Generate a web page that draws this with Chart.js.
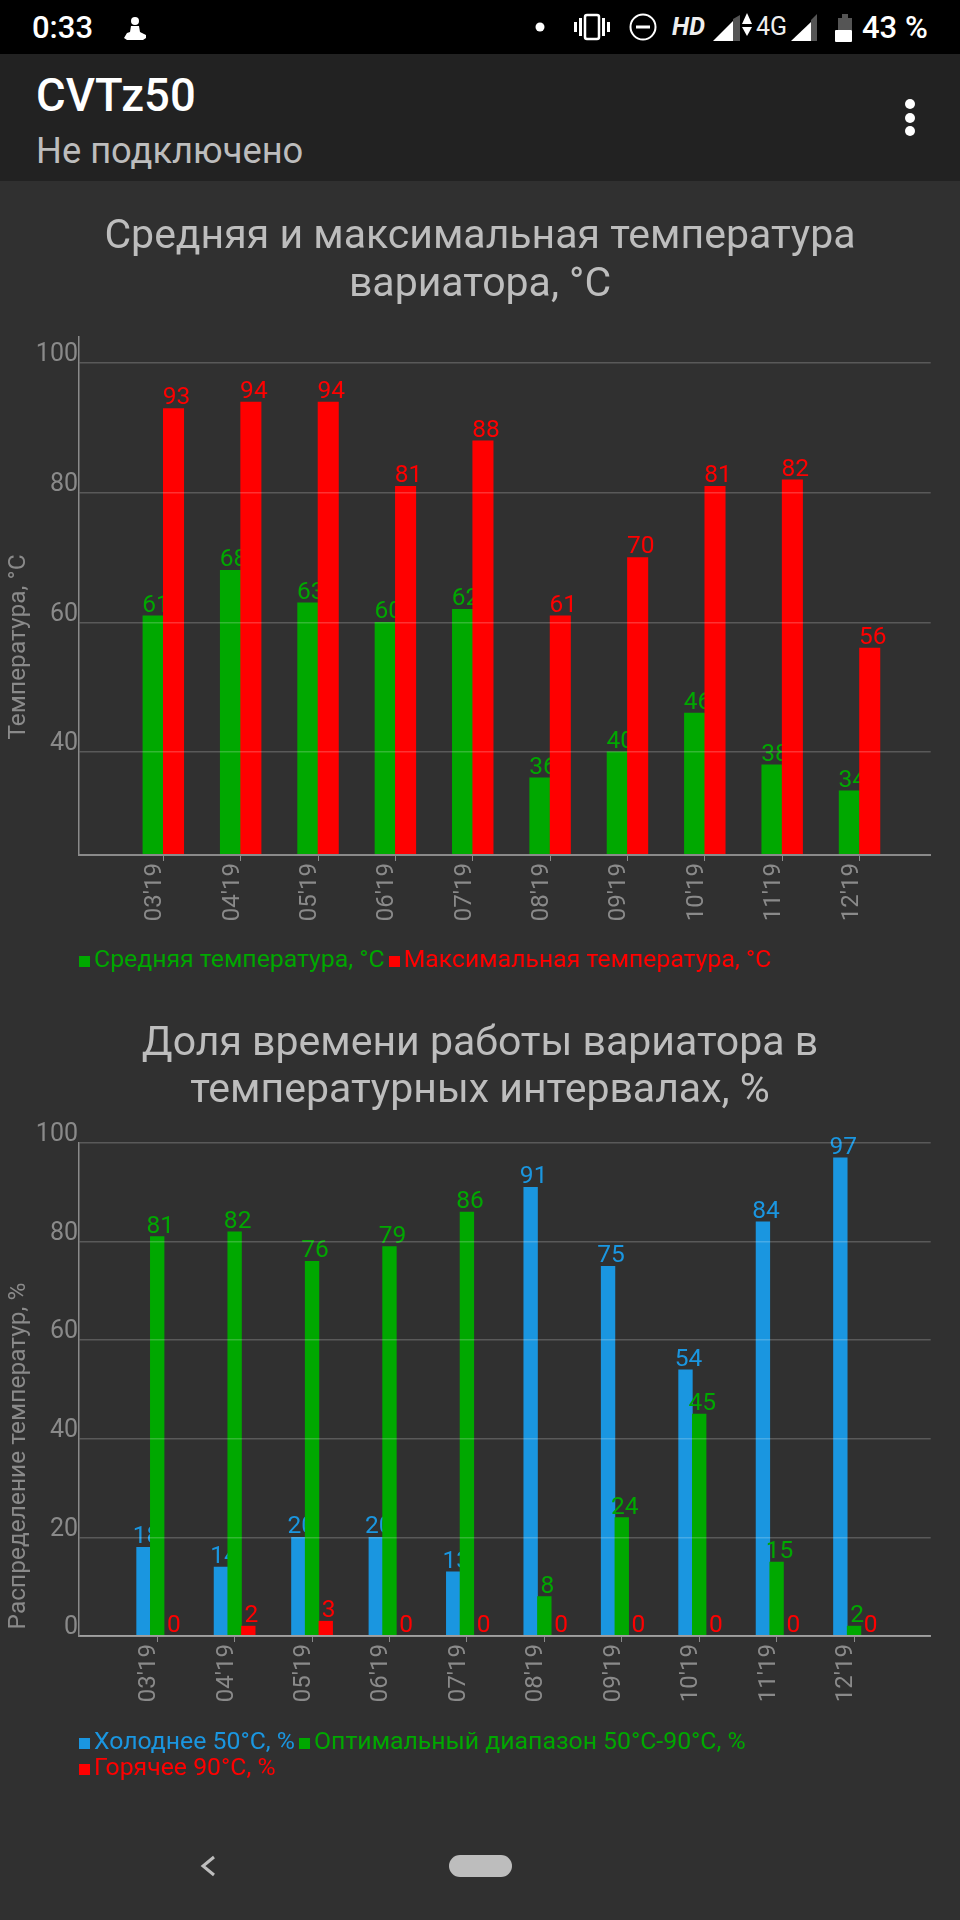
<!DOCTYPE html>
<html lang="ru">
<head>
<meta charset="utf-8">
<title>CVTz50</title>
<script src="https://cdn.jsdelivr.net/npm/chart.js@4/dist/chart.umd.min.js"></script>
<style>
  html, body { margin: 0; padding: 0; background: #303030; }
  body { position: relative; width: 960px; height: 1920px; overflow: hidden; font-family: Roboto, sans-serif; }
  .abs { position: absolute; white-space: nowrap; line-height: 1; }
  #statusBar { position: absolute; left: 0; top: 0; width: 960px; height: 54px; background: #000; }
  #appBar { position: absolute; left: 0; top: 54px; width: 960px; height: 127px; background: #222; }
  canvas { position: absolute; left: 0; }
  .legend { position: absolute; left: 79px; width: 800px; font-size: 24.8px; line-height: 25.5px; white-space: nowrap; }
  .legend span.mark { display: inline-block; width: 11px; height: 11px; margin-right: 4px; }
  .legend span.item { margin-right: 4px; }
</style>
</head>
<body>
<div id="statusBar"></div>
<div id="appBar"></div>
<div class="abs" style="left:32px;top:12px;font-size:31px;font-weight:500;color:#fff">0:33</div>
<svg class="abs" style="left:0;top:0" width="960" height="54" fill="#fff">
  <circle cx="135" cy="21" r="4"/>
  <path d="M131 26h8l1 6 6 3v3l-3 2h-16l-3-2 3-5 3-1z"/>
  <circle cx="540" cy="27" r="4.5"/>
  <rect x="585" y="15" width="14" height="24" rx="2" fill="none" stroke="#fff" stroke-width="2.5"/>
  <rect x="574" y="22" width="3" height="10"/><rect x="579" y="18" width="3" height="18"/>
  <rect x="602" y="18" width="3" height="18"/><rect x="607" y="22" width="3" height="10"/>
  <circle cx="643" cy="27" r="12.5" fill="none" stroke="#fff" stroke-width="2"/>
  <rect x="636" y="25.5" width="14" height="3"/>
  <path d="M713 41l20-20v20z"/><path d="M733 19l7-4v26h-7z" fill="#555"/>
  <path d="M742 24l5-11 5 11z"/><path d="M742 27l5 9 5-9z"/>
  <path d="M791 41l20-19v19z"/><path d="M811 20l6-6v27h-6z" fill="#555"/>
  <path d="M838 18h4v-4h6v4h4v12h-14z" fill="#555"/><rect x="835" y="30" width="17" height="12" rx="1"/>
</svg>
<div class="abs" style="left:672px;top:14px;font-size:25px;font-weight:700;font-style:italic;color:#eee">HD</div>
<div class="abs" style="left:756px;top:14px;font-size:25px;color:#eee">4G</div>
<div class="abs" style="left:862px;top:12px;font-size:31px;font-weight:500;color:#fff">43 %</div>
<div class="abs" style="left:36px;top:73px;font-size:45.4px;font-weight:500;color:#fff">CVTz50</div>
<div class="abs" style="left:36px;top:133px;font-size:36.3px;color:#bdbdbd">Не подключено</div>
<svg class="abs" style="left:0;top:0" width="960" height="181" fill="#fff">
  <circle cx="910" cy="104" r="5"/><circle cx="910" cy="118" r="5"/><circle cx="910" cy="131" r="5"/>
</svg>

<canvas id="tempChart" width="960" height="774" style="top:181px"></canvas>
<div id="tempLegend" class="legend" style="top:946px"></div>
<canvas id="shareChart" width="960" height="746" style="top:990px"></canvas>
<div id="shareLegend" class="legend" style="top:1728px"></div>

<svg class="abs" style="left:0;top:1840px" width="960" height="60">
  <path d="M214 17l-11 9 11 9" fill="none" stroke="#bdbdbd" stroke-width="3"/>
  <rect x="449" y="15" width="63" height="22" rx="11" fill="#bdbdbd"/>
</svg>

<script>
const categories = ["03'19", "04'19", "05'19", "06'19", "07'19", "08'19", "09'19", "10'19", "11'19", "12'19"];

const avgTemp = [61, 68, 63, 60, 62, 36, 40, 46, 38, 34];
const maxTemp = [93, 94, 94, 81, 88, 61, 70, 81, 82, 56];
const tempTicks = [40, 60, 80, 100];

const colderShare = [18, 14, 20, 20, 13, 91, 75, 54, 84, 97];
const optimalShare = [81, 82, 76, 79, 86, 8, 24, 45, 15, 2];
const hotterShare = [0, 2, 3, 0, 0, 0, 0, 0, 0, 0];
const shareTicks = [0, 20, 40, 60, 80, 100];

const GREEN = '#00a800';
const RED = '#ff0000';
const BLUE = '#1a96e0';
const AXIS_GREY = '#8a8a8a';

// draws the sets left to right, each with its numbers, so the next bar covers them like in the app
const barsAndValues = {
    id: 'barsAndValues',
    beforeDatasetsDraw(chart) {
        const ctx = chart.ctx;
        chart.getSortedVisibleDatasetMetas().forEach(meta => {
            meta.controller.draw();
            const ds = chart.data.datasets[meta.index];
            ctx.save();
            ctx.font = '24.5px Roboto';
            ctx.fillStyle = ds.backgroundColor;
            ctx.textAlign = 'center';
            ctx.textBaseline = 'alphabetic';
            meta.data.forEach((bar, i) => {
                ctx.fillText(ds.data[i].y, bar.x + 3, bar.y - 4);
            });
            ctx.restore();
        });
        return false;
    }
};

// the y axis caption sits lower than the middle of the plot, so it is placed by hand
const sideCaption = {
    id: 'sideCaption',
    afterDraw(chart, args, opts) {
        const ctx = chart.ctx;
        ctx.save();
        ctx.translate(25, opts.centerY);
        ctx.rotate(-Math.PI / 2);
        ctx.font = '24.5px Roboto';
        ctx.fillStyle = AXIS_GREY;
        ctx.textAlign = 'center';
        ctx.textBaseline = 'alphabetic';
        ctx.fillText(opts.text, 0, 0);
        ctx.restore();
    }
};

function toPoints(values) {
    return values.map((v, i) => ({ x: i, y: v }));
}

function renderChart(canvasId, cfg) {
    const ctx = document.getElementById(canvasId).getContext('2d');
    new Chart(ctx, {
        type: 'bar',
        data: {
            datasets: cfg.series.map(s => ({
                label: s.name,
                data: toPoints(s.values),
                backgroundColor: s.color,
                barThickness: cfg.barWidth,
                base: cfg.yMin
            }))
        },
        options: {
            responsive: false,
            animation: false,
            devicePixelRatio: 1,
            // same padding both sides keeps the title in the middle of the screen
            layout: { padding: { left: 29.3, right: 29.3, top: 0, bottom: 0 } },
            scales: {
                x: {
                    type: 'linear',
                    offset: false,
                    min: cfg.xMin,
                    max: cfg.xMax,
                    afterBuildTicks: scale => { scale.ticks = categories.map((c, i) => ({ value: i })); },
                    afterFit: scale => { scale.height = 100; },
                    grid: { offset: false, drawOnChartArea: false, tickLength: 6, color: AXIS_GREY },
                    border: { color: AXIS_GREY, width: 2, z: 1 },
                    ticks: {
                        callback: value => categories[value],
                        autoSkip: false,
                        minRotation: 90,
                        maxRotation: 90,
                        padding: 2,
                        labelOffset: -8,
                        color: AXIS_GREY,
                        font: { family: 'Roboto', size: 24 }
                    }
                },
                y: {
                    min: cfg.yMin,
                    max: cfg.yMax,
                    afterBuildTicks: scale => { scale.ticks = cfg.yTicks.map(v => ({ value: v })); },
                    afterFit: scale => { scale.width = 49.7; },
                    grid: { color: 'rgba(255,255,255,0.2)', lineWidth: 1.5, drawTicks: false, z: 1 },
                    border: { color: AXIS_GREY, width: 1.5, z: 1 },
                    ticks: {
                        padding: 1,
                        labelOffset: -8,
                        color: AXIS_GREY,
                        font: { family: 'Roboto', size: 25 }
                    }
                }
            },
            plugins: {
                legend: { display: false },
                tooltip: { enabled: false },
                title: {
                    display: true,
                    text: cfg.title,
                    color: '#bdbdbd',
                    font: { family: 'Roboto', size: 41, weight: 'normal', lineHeight: cfg.titleLine / 41 },
                    padding: cfg.titlePadding
                },
                sideCaption: { text: cfg.caption, centerY: cfg.captionY }
            }
        },
        plugins: [barsAndValues, sideCaption]
    });

    // legend as coloured text, wraps like the app does
    const box = document.getElementById(cfg.legendId);
    cfg.series.forEach((s, i) => {
        const item = document.createElement('span');
        item.className = 'item';
        item.style.color = s.color;
        item.innerHTML = '<span class="mark" style="background:' + s.color + '"></span>' + s.name;
        box.appendChild(item);
        if (cfg.legendBreak === i) box.appendChild(document.createElement('br'));
    });
}

renderChart('tempChart', {
    title: ['Средняя и максимальная температура', 'вариатора, °C'],
    titleLine: 48,
    titlePadding: { top: 32.5, bottom: 27.5 },
    caption: 'Температура, °C',
    captionY: 466,
    legendId: 'tempLegend',
    series: [
        { name: 'Средняя температура, °C', values: avgTemp, color: GREEN },
        { name: 'Максимальная температура, °C', values: maxTemp, color: RED }
    ],
    barWidth: 20.4,
    xMin: -1.09,
    xMax: 9.92,
    yMin: 24.08,
    yMax: 104.03,
    yTicks: tempTicks
});

renderChart('shareChart', {
    title: ['Доля времени работы вариатора в', 'температурных интервалах, %'],
    titleLine: 47,
    titlePadding: { top: 31.5, bottom: 27.5 },
    caption: 'Распределение температур, %',
    captionY: 466,
    legendId: 'shareLegend',
    legendBreak: 1,
    series: [
        { name: 'Холоднее 50°C, %', values: colderShare, color: BLUE },
        { name: 'Оптимальный диапазон 50°C-90°C, %', values: optimalShare, color: GREEN },
        { name: 'Горячее 90°C, %', values: hotterShare, color: RED }
    ],
    barWidth: 13.7,
    xMin: -1.01,
    xMax: 9.99,
    yMin: 0,
    yMax: 100,
    yTicks: shareTicks
});
</script>
</body>
</html>
